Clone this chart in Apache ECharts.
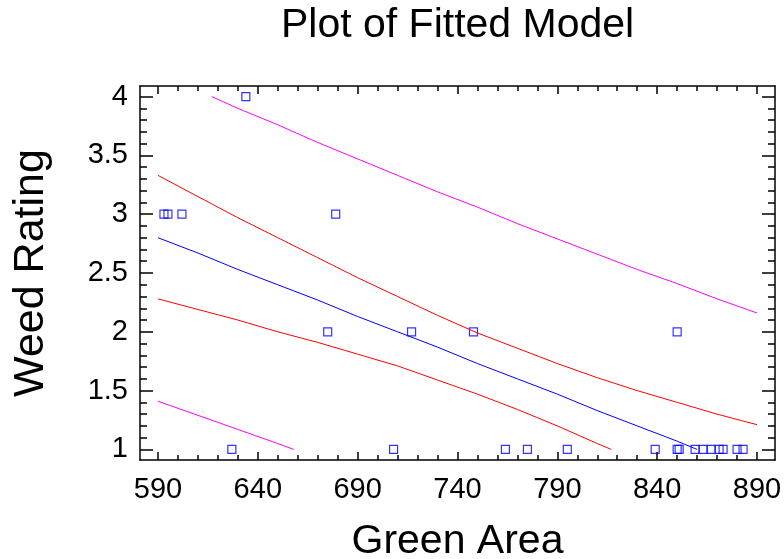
<!DOCTYPE html>
<html>
<head>
<meta charset="utf-8">
<script src="https://cdn.jsdelivr.net/npm/echarts@6/dist/echarts.min.js"></script>
<style>
  html, body { margin: 0; padding: 0; background: #fff; }
  #chart { width: 784px; height: 559px; }
</style>
</head>
<body>
<div id="chart"></div>
<script>
// observed points
var greenArea = [593, 595, 602, 634, 679, 675, 717, 748, 850, 627, 708, 764, 775, 795, 839, 850, 851, 859, 863, 867, 871, 873, 880, 883];
var weedRating = [3, 3, 3, 4, 3, 2, 2, 2, 2, 1, 1, 1, 1, 1, 1, 1, 1, 1, 1, 1, 1, 1, 1, 1];

// fitted line
var fitX = [590, 610, 630, 650, 670, 690, 710, 730, 750, 770, 790, 810, 830, 850, 860];
var fitY = [2.80, 2.67, 2.53, 2.40, 2.27, 2.13, 2.00, 1.87, 1.73, 1.60, 1.47, 1.33, 1.20, 1.07, 1.00];

// confidence limits for the mean (red)
var confUpX = [590, 610, 630, 650, 670, 690, 710, 730, 750, 770, 790, 810, 830, 850, 870, 890];
var confUpY = [3.33, 3.15, 2.97, 2.80, 2.63, 2.46, 2.30, 2.14, 1.99, 1.86, 1.73, 1.61, 1.50, 1.40, 1.30, 1.21];
var confLoX = [590, 610, 630, 650, 670, 690, 710, 730, 750, 770, 790, 810, 817];
var confLoY = [2.28, 2.19, 2.10, 2.00, 1.91, 1.81, 1.71, 1.59, 1.47, 1.34, 1.20, 1.05, 1.00];

// prediction limits (magenta)
var predUpX = [617, 630, 650, 670, 690, 710, 730, 750, 770, 790, 810, 830, 850, 870, 890];
var predUpY = [4.00, 3.90, 3.76, 3.61, 3.47, 3.33, 3.19, 3.06, 2.92, 2.79, 2.66, 2.53, 2.41, 2.28, 2.16];
var predLoX = [590, 610, 630, 650, 658];
var predLoY = [1.41, 1.29, 1.17, 1.05, 1.00];

// ticks
var xMajor = [590, 640, 690, 740, 790, 840, 890];
var xMinor = [590, 600, 610, 620, 630, 640, 650, 660, 670, 680, 690, 700, 710, 720, 730, 740, 750, 760, 770, 780, 790, 800, 810, 820, 830, 840, 850, 860, 870, 880, 890];
var yMajor = [1, 1.5, 2, 2.5, 3, 3.5, 4];
var yMinor = [1, 1.1, 1.2, 1.3, 1.4, 1.5, 1.6, 1.7, 1.8, 1.9, 2, 2.1, 2.2, 2.3, 2.4, 2.5, 2.6, 2.7, 2.8, 2.9, 3, 3.1, 3.2, 3.3, 3.4, 3.5, 3.6, 3.7, 3.8, 3.9, 4];

var font = "'Liberation Sans', Arial, sans-serif";

function pairs(xs, ys) {
  return xs.map(function (x, i) { return [x, ys[i]]; });
}

function xAx(pos, ticks, len, main) {
  return {
    type: 'value', position: pos, min: 581, max: 899,
    name: main && pos === 'bottom' ? 'Green Area' : '',
    nameLocation: 'middle', nameGap: 61,
    nameTextStyle: { fontSize: 41, color: '#000', fontFamily: font },
    splitLine: { show: false },
    axisLine: { show: main, onZero: false, lineStyle: { color: '#000', width: 1.5 } },
    axisTick: { show: true, inside: true, length: len, customValues: ticks, lineStyle: { color: '#000', width: 1.5 } },
    axisLabel: { show: main && pos === 'bottom', customValues: xMajor, margin: 15, fontSize: 29, color: '#000', fontFamily: font }
  };
}

function yAx(pos, ticks, len, main) {
  return {
    type: 'value', position: pos, min: 0.91, max: 4.09,
    name: main && pos === 'left' ? 'Weed Rating' : '',
    nameLocation: 'middle', nameGap: 87,
    nameTextStyle: { fontSize: 43, color: '#000', fontFamily: font },
    splitLine: { show: false },
    axisLine: { show: main, onZero: false, lineStyle: { color: '#000', width: 1.5 } },
    axisTick: { show: true, inside: true, length: len, customValues: ticks, lineStyle: { color: '#000', width: 1.5 } },
    axisLabel: { show: main && pos === 'left', customValues: yMajor, margin: 12, fontSize: 29, color: '#000', fontFamily: font }
  };
}

var option = {
  backgroundColor: '#fff',
  animation: false,
  title: {
    text: 'Plot of Fitted Model',
    left: 281, top: 5, padding: 0,
    textStyle: { fontSize: 41, fontWeight: 'normal', color: '#000', fontFamily: font }
  },
  grid: { left: 140, top: 86, width: 635, height: 374, containLabel: false, outerBoundsMode: 'none' },
  xAxis: [
    xAx('bottom', xMajor, 8, true),
    xAx('bottom', xMinor, 5, false),
    xAx('top', xMajor, 8, true),
    xAx('top', xMinor, 5, false)
  ],
  yAxis: [
    yAx('left', yMajor, 13, true),
    yAx('left', yMinor, 7, false),
    yAx('right', yMajor, 13, true),
    yAx('right', yMinor, 7, false)
  ],
  series: [
    {
      type: 'line', data: pairs(predUpX, predUpY), showSymbol: false,
      lineStyle: { color: '#ff00ff', width: 1 }
    },
    {
      type: 'line', data: pairs(predLoX, predLoY), showSymbol: false,
      lineStyle: { color: '#ff00ff', width: 1 }
    },
    {
      type: 'line', data: pairs(confUpX, confUpY), showSymbol: false,
      lineStyle: { color: '#ff0000', width: 1 }
    },
    {
      type: 'line', data: pairs(confLoX, confLoY), showSymbol: false,
      lineStyle: { color: '#ff0000', width: 1 }
    },
    {
      type: 'line', data: pairs(fitX, fitY), showSymbol: false,
      lineStyle: { color: '#0000ff', width: 1 }
    },
    {
      type: 'scatter', data: pairs(greenArea, weedRating),
      symbol: 'rect', symbolSize: 8,
      itemStyle: { color: 'rgba(0,0,0,0)', borderColor: '#0000ff', borderWidth: 1.2 }
    }
  ]
};

var chart = echarts.init(document.getElementById('chart'), null, { renderer: 'canvas' });
chart.setOption(option);
</script>
</body>
</html>
